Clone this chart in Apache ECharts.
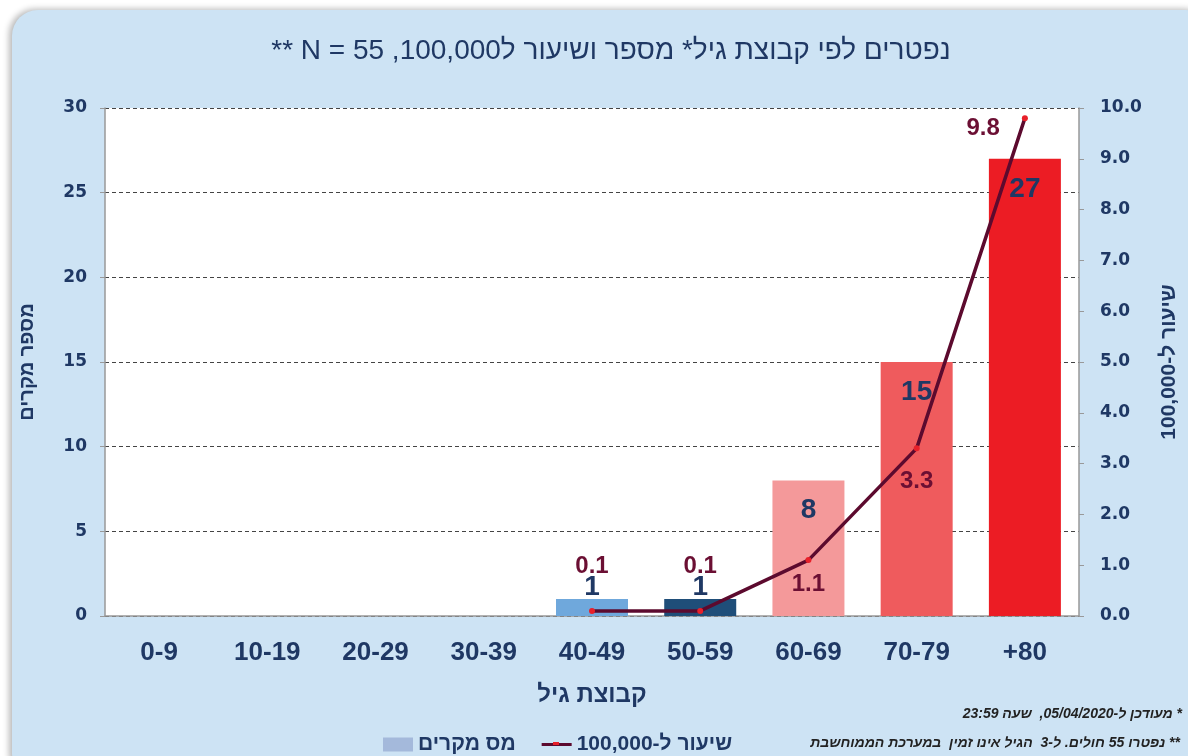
<!DOCTYPE html>
<html>
<head>
<meta charset="utf-8">
<script src="https://cdn.jsdelivr.net/npm/echarts@6/dist/echarts.min.js"></script>
<style>
    html, body { margin: 0; padding: 0; background: #ffffff; }
    #panel {
        position: absolute; left: 12px; top: 10px; width: 1200px; height: 770px;
        background: #cde3f4; border-radius: 26px;
        box-shadow: -3px -1px 6px rgba(0,0,0,0.28);
    }
    #all_deaths_by_age { position: absolute; left: 0; top: 0; width: 1188px; height: 756px; }
</style>
</head>
<body>
<div id="panel"></div>
<div id="all_deaths_by_age" dir="rtl"></div>
<script>
// RTL canvas: strings are in logical order, so "80+" shows as "+80"
var ageGroups = ['0-9', '10-19', '20-29', '30-39', '40-49', '50-59', '60-69', '70-79', '80+'];
var deathCounts = [0, 0, 0, 0, 1, 1, 8, 15, 27];
var ratePer100k = [null, null, null, null, 0.1, 0.1, 1.1, 3.3, 9.8];
var countTicks = [0, 5, 10, 15, 20, 25, 30];
var rateTicks = [0, 1, 2, 3, 4, 5, 6, 7, 8, 9, 10];

var barColors = ['#6fa8dc', '#6fa8dc', '#6fa8dc', '#6fa8dc', '#6fa8dc', '#1f4e79', '#f4999a', '#ef5b5d', '#ec1c24'];
var navy = '#1f3864';
var maroon = '#6b0f33';
var font = '"Liberation Sans", Arial, sans-serif';

var barData = deathCounts.map(function (v, i) {
    var small = v < 5;
    return {
        value: v,
        itemStyle: { color: barColors[i] },
        label: {
            show: v > 0,
            position: small ? 'top' : 'insideTop',
            distance: small ? -2 : 16
        }
    };
});

var lineLabelPos = {4: ['top', 30], 5: ['top', 30], 6: ['bottom', 9], 7: ['bottom', 18], 8: ['left', 22]};
var lineData = ratePer100k.map(function (v, i) {
    if (v === null) return '-';
    var p = lineLabelPos[i];
    var item = { value: v, label: { position: p[0], distance: p[1] } };
    if (p[0] === 'left') item.label.offset = [0, 10];
    return item;
});

var option = {
    backgroundColor: 'transparent',
    textStyle: { fontFamily: font },
    graphic: [
        {
            type: 'text', x: 611, y: 51,
            style: {
                text: 'נפטרים לפי קבוצת גיל* מספר ושיעור ל100,000, N = 55 **',
                align: 'center', verticalAlign: 'middle',
                font: '28px ' + font, fill: navy
            }
        },
        {
            type: 'text', x: 1182, y: 714,
            style: {
                text: '* מעודכן ל-05/04/2020,  שעה 23:59',
                align: 'right', verticalAlign: 'middle',
                font: 'italic bold 14px ' + font, fill: '#222'
            }
        },
        {
            type: 'text', x: 1180, y: 743,
            style: {
                text: '** נפטרו 55 חולים. ל-3  הגיל אינו זמין  במערכת הממוחשבת',
                align: 'right', verticalAlign: 'middle',
                font: 'italic bold 14px ' + font, fill: '#222'
            }
        },
        {
            // red marker in the middle of the line legend icon
            type: 'rect', shape: { x: 553, y: 742, width: 6, height: 3 },
            style: { fill: '#e8202a' }, z: 100
        }
    ],
    legend: {
        left: 378,
        top: 729,
        itemGap: 26,
        itemWidth: 30,
        itemHeight: 14,
        textStyle: { color: navy, fontSize: 21, fontWeight: 'bold', fontFamily: font },
        data: [
            { name: 'מס מקרים', icon: 'rect', itemStyle: { color: '#a4b9db' } },
            { name: 'שיעור ל-100,000', icon: 'path://M0,0 L30,0 L30,3 L0,3 Z', itemStyle: { color: '#5c0a2e' } }
        ]
    },
    grid: {
        left: 105, right: 106, top: 108, bottom: 140,
        show: true, backgroundColor: '#ffffff', borderWidth: 0
    },
    xAxis: {
        type: 'category',
        data: ageGroups,
        name: 'קבוצת גיל',
        nameLocation: 'middle',
        nameGap: 67,
        nameTextStyle: { color: navy, fontSize: 24, fontWeight: 'bold' },
        axisLine: { lineStyle: { color: '#999', width: 1.5 } },
        axisTick: { alignWithLabel: true, length: 6, lineStyle: { color: '#999' } },
        axisLabel: { color: navy, fontSize: 26, fontWeight: 'bold', margin: 24 }
    },
    yAxis: [
        {
            type: 'value',
            min: countTicks[0], max: countTicks[countTicks.length - 1], interval: 5,
            name: 'מספר מקרים',
            nameLocation: 'middle',
            nameGap: 68,
            nameTextStyle: { color: navy, fontSize: 20, fontWeight: 'bold' },
            axisLine: { show: true, lineStyle: { color: '#999', width: 1.5 } },
            axisTick: { show: true, length: 5, lineStyle: { color: '#999' } },
            axisLabel: { color: navy, fontSize: 17, fontWeight: 'bold', margin: 18, fontFamily: '"DejaVu Sans", Verdana, sans-serif' },
            splitLine: { lineStyle: { color: '#444', type: [4, 3], width: 1 } }
        },
        {
            type: 'value',
            min: rateTicks[0], max: rateTicks[rateTicks.length - 1], interval: 1,
            name: 'שיעור ל-100,000',
            nameLocation: 'middle',
            nameGap: 80,
            nameTextStyle: { color: navy, fontSize: 21, fontWeight: 'bold' },
            axisLine: { show: true, lineStyle: { color: '#999', width: 1.5 } },
            axisTick: { show: true, length: 5, lineStyle: { color: '#999' } },
            axisLabel: {
                color: navy, fontSize: 17, fontWeight: 'bold', margin: 21,
                fontFamily: '"DejaVu Sans", Verdana, sans-serif',
                formatter: function (v) { return v.toFixed(1); }
            },
            splitLine: { show: false }
        }
    ],
    series: [
        {
            name: 'מס מקרים',
            type: 'bar',
            barWidth: 72,
            color: '#a4b9db',
            data: barData,
            label: { color: navy, fontSize: 28, fontWeight: 'bold' },
            z: 2
        },
        {
            name: 'שיעור ל-100,000',
            type: 'line',
            yAxisIndex: 1,
            data: lineData,
            color: '#e8202a',
            symbol: 'circle',
            symbolSize: 6,
            lineStyle: { color: '#5c0a2e', width: 3.5 },
            itemStyle: { color: '#e8202a' },
            label: {
                show: true, color: maroon, fontSize: 24, fontWeight: 'bold',
                formatter: function (p) { return p.value.toFixed(1); }
            },
            z: 5
        }
    ]
};

var chart = echarts.init(document.getElementById('all_deaths_by_age'));
chart.setOption(option);
</script>
</body>
</html>
